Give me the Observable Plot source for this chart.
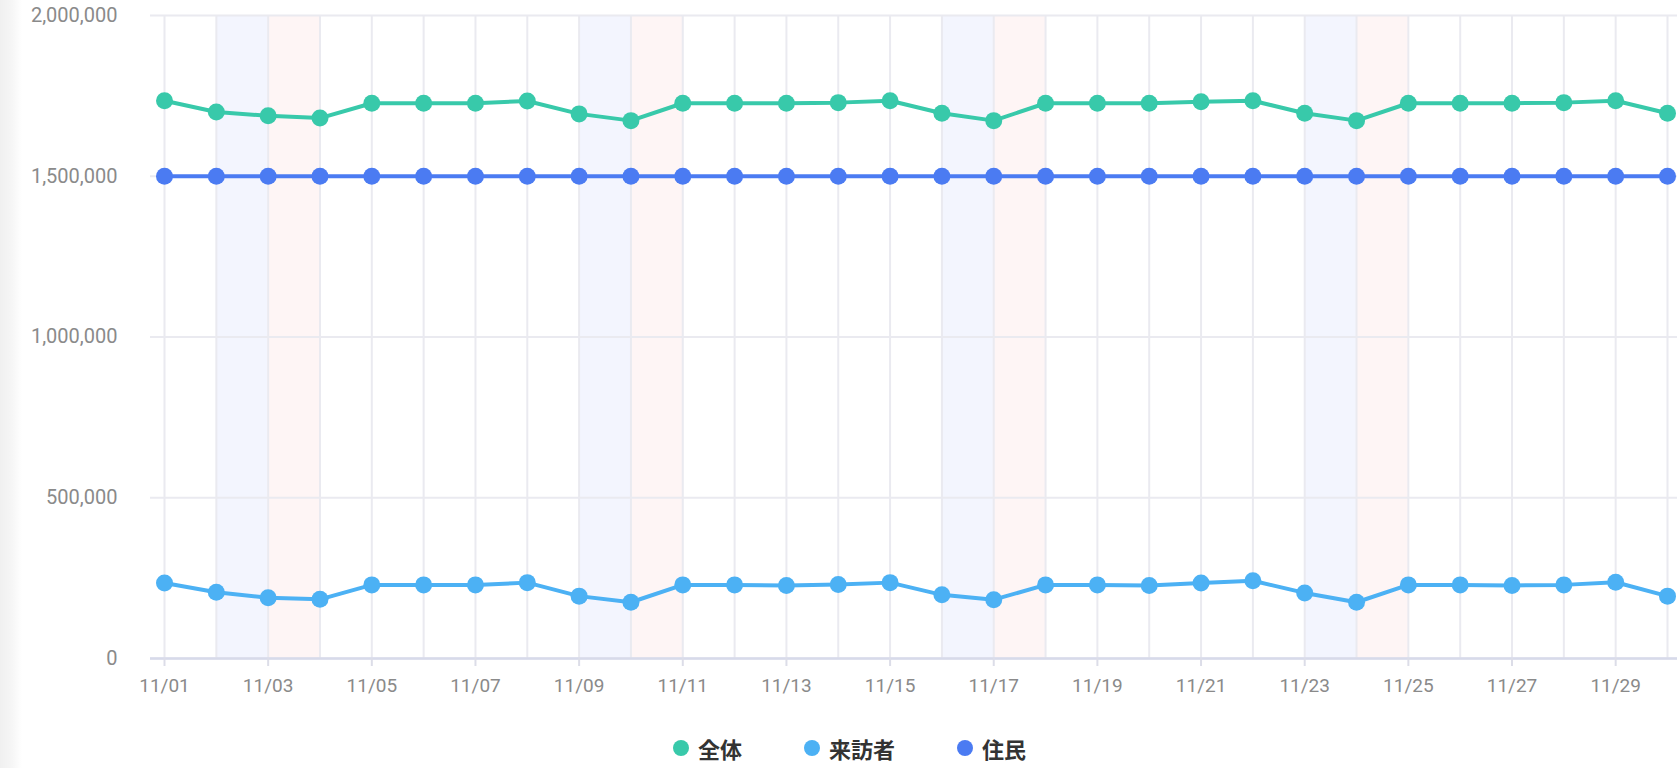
<!DOCTYPE html>
<html>
<head>
<meta charset="utf-8">
<script src="https://cdn.jsdelivr.net/npm/d3@7"></script>
<script src="https://cdn.jsdelivr.net/npm/@observablehq/plot@0.6"></script>
<style>
  html, body { margin: 0; padding: 0; background: #fff; width: 1677px; height: 768px; overflow: hidden; }
  #strip { position: absolute; left: 0; top: 0; width: 22px; height: 768px;
           background: linear-gradient(to right, #f0f0f0, #f6f6f6 55%, #ffffff); z-index: 0; }
  #chart { position: absolute; left: 0; top: 0; z-index: 1; }
  #legend { position: absolute; left: 0; top: 728px; width: 1677px; height: 40px; z-index: 1;
            display: flex; justify-content: center; align-items: center; gap: 62px;
            font-family: "Noto Sans CJK JP", "Noto Sans", sans-serif; font-weight: 700;
            font-size: 22px; color: #333; padding-left: 22px; box-sizing: border-box; }
  .item { display: flex; align-items: center; gap: 9px; }
  .sw { width: 16px; height: 16px; border-radius: 50%; display: inline-block; }
</style>
</head>
<body>
<div id="strip"></div>
<div id="chart"></div>
<div id="legend"></div>
<script>
// ---- data ----
const dates = ["11/01","11/02","11/03","11/04","11/05","11/06","11/07","11/08","11/09","11/10",
               "11/11","11/12","11/13","11/14","11/15","11/16","11/17","11/18","11/19","11/20",
               "11/21","11/22","11/23","11/24","11/25","11/26","11/27","11/28","11/29","11/30"];
const total = [1735000,1700000,1688000,1681000,1727000,1727000,1727000,1734000,1694000,1673000,
               1727000,1727000,1727000,1729000,1735000,1696000,1673000,1727000,1727000,1727000,
               1732000,1735000,1696000,1673000,1727000,1727000,1727000,1729000,1735000,1696000];
const visitors = [235000,206000,189000,184000,229000,229000,229000,236000,194000,175000,
                  229000,229000,227000,230000,236000,198000,183000,229000,229000,227000,
                  235000,242000,204000,175000,229000,229000,227000,229000,237000,194000];
const residents = [1500000,1500000,1500000,1500000,1500000,1500000,1500000,1500000,1500000,1500000,
                   1500000,1500000,1500000,1500000,1500000,1500000,1500000,1500000,1500000,1500000,
                   1500000,1500000,1500000,1500000,1500000,1500000,1500000,1500000,1500000,1500000];
const seriesNames = ["全体", "来訪者", "住民"];
const seriesColors = ["#38c9aa", "#4cb1f4", "#4b7bf2"];
const saturdayBands = ["11/02", "11/09", "11/16", "11/23"];
const sundayBands = ["11/03", "11/10", "11/17", "11/24"];
const xTickLabels = ["11/01","11/03","11/05","11/07","11/09","11/11","11/13","11/15",
                     "11/17","11/19","11/21","11/23","11/25","11/27","11/29"];
const yTicks = [0, 500000, 1000000, 1500000, 2000000];

// ---- build ----
const parse = s => d3.utcParse("%Y/%m/%d")("2019/" + s);
const nextDay = s => d3.utcDay.offset(parse(s), 1);
const seriesValues = [total, visitors, residents];
const rows = [];
seriesNames.forEach((name, i) => {
  dates.forEach((d, j) => rows.push({series: name, date: parse(d), value: seriesValues[i][j]}));
});
const yMax = yTicks[yTicks.length - 1];

const chart = Plot.plot({
  width: 1677,
  height: 728,
  marginLeft: 150,
  marginRight: 0,
  marginTop: 15,
  marginBottom: 70,
  style: {background: "transparent", fontFamily: "Roboto, 'Noto Sans', sans-serif"},
  x: {type: "utc", domain: [parse(dates[0]), parse(dates[dates.length - 1])], insetLeft: 14, insetRight: 10},
  y: {domain: [0, yMax]},
  color: {domain: seriesNames, range: seriesColors},
  marks: [
    Plot.rect(saturdayBands, {x1: d => parse(d), x2: d => nextDay(d), y1: 0, y2: yMax, fill: "#f3f5fe"}),
    Plot.rect(sundayBands, {x1: d => parse(d), x2: d => nextDay(d), y1: 0, y2: yMax, fill: "#fef5f5"}),
    Plot.gridY(yTicks, {stroke: "#eaeaf0", strokeOpacity: 1, strokeWidth: 2}),
    Plot.gridX(dates.map(parse), {stroke: "#eaeaf0", strokeOpacity: 1, strokeWidth: 2}),
    Plot.ruleY([0], {stroke: "#d7daea", strokeWidth: 2.5}),
    Plot.axisX(xTickLabels.map(parse), {tickFormat: d3.utcFormat("%m/%d"), tickSize: 8, tickPadding: 12,
      stroke: "#dcdde8", strokeWidth: 2, fontSize: 19, fill: "#8a8a8a", label: null}),
    Plot.axisY(yTicks, {tickFormat: d3.format(","), tickSize: 0, tickPadding: 33,
      fontSize: 20, fill: "#8a8a8a", label: null}),
    Plot.line(rows, {x: "date", y: "value", stroke: "series", strokeWidth: 4}),
    Plot.dot(rows, {x: "date", y: "value", fill: "series", r: 8.5})
  ]
});
document.getElementById("chart").appendChild(chart);

const legend = document.getElementById("legend");
seriesNames.forEach((name, i) => {
  const it = document.createElement("div");
  it.className = "item";
  const sw = document.createElement("span");
  sw.className = "sw";
  sw.style.background = seriesColors[i];
  const t = document.createElement("span");
  t.textContent = name;
  it.appendChild(sw); it.appendChild(t);
  legend.appendChild(it);
});
</script>
</body>
</html>
